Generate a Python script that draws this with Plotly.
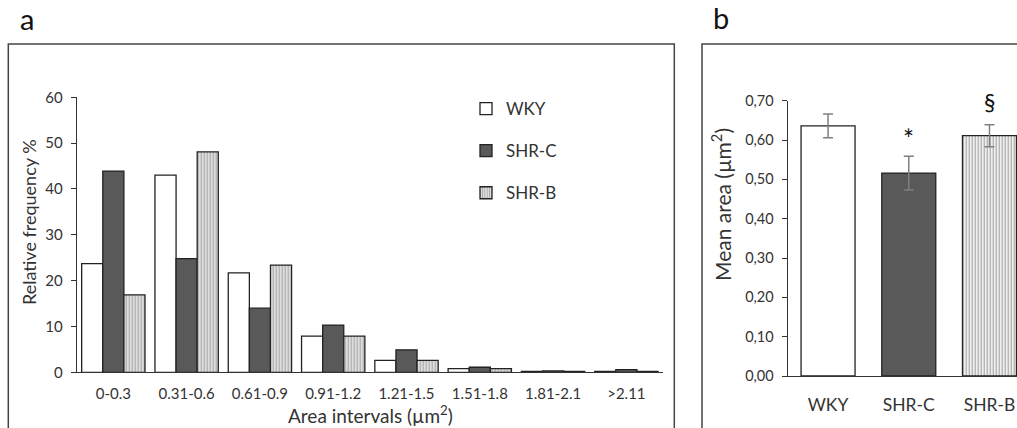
import plotly.graph_objects as go

W, H = 1017, 428

intervals = ["0-0.3", "0.31-0.6", "0.61-0.9", "0.91-1.2", "1.21-1.5", "1.51-1.8", "1.81-2.1", ">2.11"]
wky = [23.7, 43.0, 21.7, 7.9, 2.6, 0.8, 0.2, 0.2]
shr_c = [43.9, 24.8, 14.0, 10.3, 4.9, 1.1, 0.3, 0.6]
shr_b = [16.9, 48.1, 23.4, 7.9, 2.6, 0.8, 0.2, 0.2]

groups = ["WKY", "SHR-C", "SHR-B"]
mean_area = [0.636, 0.516, 0.611]
mean_err = [0.030, 0.043, 0.028]
signif = ["", "*", "§"]

yticks_a = [0, 10, 20, 30, 40, 50, 60]
yticks_b = [0.0, 0.1, 0.2, 0.3, 0.4, 0.5, 0.6, 0.7]

FONT = "Lato"
LINE = "#333333"
TXT = "#333333"

def px(x):
    return x / W

def py(y):
    return (H - y) / H

fig = go.Figure()

PAT = dict(shape="|", fgcolor="#666666", bgcolor="#e8e8e8", size=3, solidity=0.45)
styles = [("white", None), ("#595959", None), ("white", PAT)]
for (name, vals), (col, pat) in zip(zip(groups, [wky, shr_c, shr_b]), styles):
    m = dict(color=col, line=dict(color="#222222", width=1.3))
    if pat:
        m["pattern"] = pat
    fig.add_trace(go.Bar(x=intervals, y=vals, name=name, marker=m,
                         legendgroup=name, xaxis="x", yaxis="y"))

fig.add_trace(go.Bar(
    x=groups, y=mean_area, xaxis="x2", yaxis="y2", width=0.669, showlegend=False,
    marker=dict(color=["white", "#595959", "white"], line=dict(color="#222222", width=1.3),
                pattern=dict(shape=["", "", "|"], fgcolor="#666666", bgcolor="#e8e8e8", size=3, solidity=0.45)),
    error_y=dict(type="data", array=mean_err, color="#808080", thickness=1.5, width=5),
))

fig.update_layout(
    width=W, height=H,
    margin=dict(l=0, r=0, t=0, b=0, pad=0, autoexpand=False),
    paper_bgcolor="white", plot_bgcolor="white",
    barmode="group", bargap=0.136, bargroupgap=0,
    separators=", ",
    font=dict(family=FONT, color=TXT),
    xaxis=dict(domain=[px(76.7), px(663)], anchor="y", showline=True, linecolor=LINE, linewidth=1.2,
               ticks="", ticklabelstandoff=8, automargin=False,
               tickfont=dict(family=FONT, size=15, color=TXT), showgrid=False, zeroline=False),
    yaxis=dict(domain=[py(372.3), py(97.3)], anchor="x", range=[0, 60], tickvals=yticks_a,
               showline=True, linecolor=LINE, linewidth=1.2, ticks="outside", ticklen=5,
               ticklabelstandoff=5, automargin=False,
               tickcolor=LINE, tickfont=dict(family=FONT, size=15, color=TXT),
               showgrid=False, zeroline=False),
    xaxis2=dict(domain=[px(787.7), 1], anchor="y2", range=[-0.5, 2.341], showline=True,
                linecolor=LINE, linewidth=1.2, ticks="", showgrid=False, zeroline=False,
                ticklabelstandoff=13, automargin=False,
                tickfont=dict(family=FONT, size=17.5, color=TXT)),
    yaxis2=dict(domain=[py(376), py(100.7)], anchor="x2", range=[0, 0.7], tickvals=yticks_b,
                tickformat=".2f", showline=True, linecolor=LINE, linewidth=1.2, ticks="outside",
                ticklen=5, tickcolor=LINE, ticklabelstandoff=5, automargin=False,
                tickfont=dict(family=FONT, size=14.5, color=TXT),
                showgrid=False, zeroline=False),
    legend=dict(x=px(466), y=py(91), xanchor="left", yanchor="top", bgcolor="rgba(0,0,0,0)",
                borderwidth=0, font=dict(family=FONT, size=17, color=TXT), tracegroupgap=17,
                traceorder="grouped", itemwidth=30),
    showlegend=True,
)

# panel frames
fig.add_shape(type="rect", xref="paper", yref="paper", x0=px(8.3), x1=px(674.3), y0=py(440), y1=py(44),
              line=dict(color="#444444", width=1.5), layer="below")
fig.add_shape(type="rect", xref="paper", yref="paper", x0=px(702), x1=px(1030), y0=py(440), y1=py(44),
              line=dict(color="#444444", width=1.5), layer="below")

annotations = [
    dict(text="a", x=px(27), y=py(19), font=dict(family=FONT, size=29, color="#111111")),
    dict(text="b", x=px(721), y=py(18), font=dict(family=FONT, size=29, color="#111111")),
    dict(text="Relative frequency %", x=px(29), y=py(222), textangle=-90,
         font=dict(family=FONT, size=18, color=TXT)),
    dict(text="Area intervals (µm<sup>2</sup>)", x=px(370), y=py(414),
         font=dict(family=FONT, size=19, color=TXT)),
    dict(text="Mean area (µm<sup>2</sup>)", x=px(721), y=py(205), textangle=-90,
         font=dict(family=FONT, size=21, color=TXT)),
]
for a in annotations:
    a.update(xref="paper", yref="paper", showarrow=False, xanchor="center", yanchor="middle")

# significance marks above the error bars
for g, v, e, s in zip(groups, mean_area, mean_err, signif):
    if s:
        annotations.append(dict(
            text=s, x=g, y=v + e, xref="x2", yref="y2", showarrow=False,
            xanchor="center", yanchor="middle", yshift=(17 if s == "*" else 23),
            font=dict(family=FONT, size=(26 if s == "*" else 23), color="#111111")))

fig.update_layout(annotations=annotations)

post = (
    "document.body.style.margin='0';"
    "document.body.style.overflow='hidden';"
)
fig.write_html("out.html", config={"displayModeBar": False}, post_script=post)
